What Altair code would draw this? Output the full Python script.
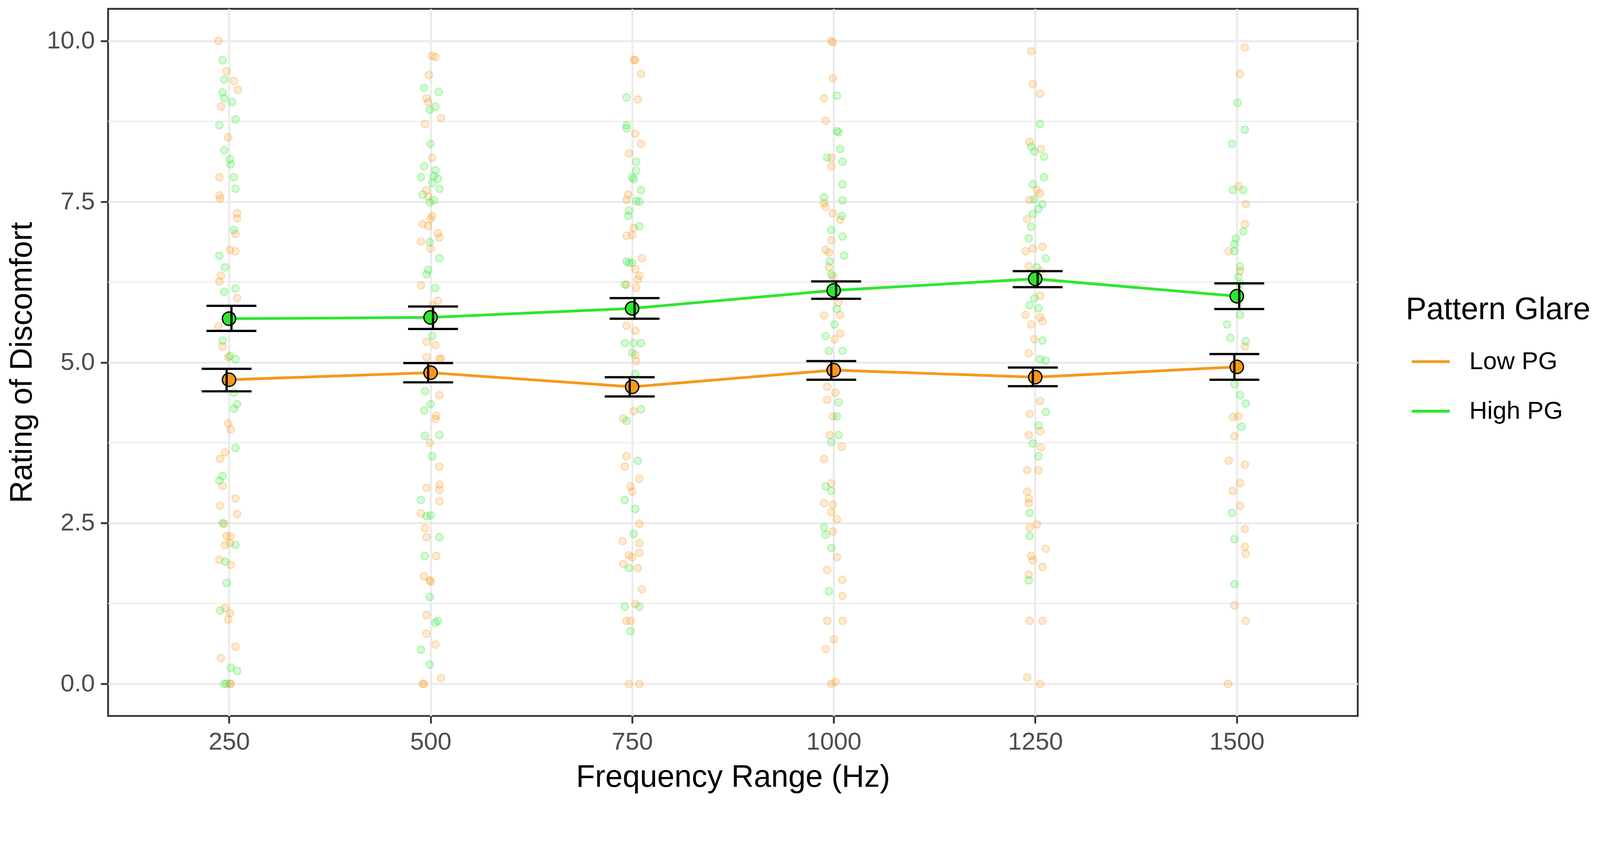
import altair as alt
import pandas as pd

FREQS = [250, 500, 750, 1000, 1250, 1500]
GROUPS = ["Low PG", "High PG"]
COLORS = ["#F7981D", "#2FE62F"]

MEAN_LOW = [4.73, 4.84, 4.62, 4.88, 4.77, 4.93]
LOWER_LOW = [4.55, 4.69, 4.47, 4.73, 4.63, 4.73]
UPPER_LOW = [4.90, 4.99, 4.77, 5.02, 4.92, 5.13]
MEAN_HIGH = [5.68, 5.70, 5.84, 6.12, 6.30, 6.03]
LOWER_HIGH = [5.49, 5.52, 5.68, 5.99, 6.17, 5.83]
UPPER_HIGH = [5.88, 5.87, 6.00, 6.26, 6.42, 6.23]

Y_TICKS = [0, 2.5, 5, 7.5, 10]
Y_MINOR = [1.25, 3.75, 6.25, 8.75]

# raw ratings: (horizontal jitter in Hz, rating)
RAW_LOW = {
    250: [(-13, 10.0), (-3, 9.53), (6, 9.38), (11, 9.24), (-10, 8.98), (-1, 8.50), (-12, 7.88),
          (-12, 7.60), (-11, 7.55), (10, 7.32), (10, 7.24), (8, 7.00), (1, 6.75), (8, 6.73),
          (-10, 6.35), (-12, 6.26), (10, 6.00), (-13, 5.56), (-8, 5.25), (-1, 5.08), (-1, 4.05),
          (2, 3.96), (-5, 3.60), (-11, 3.50), (-8, 3.08), (8, 2.88), (-11, 2.77), (10, 2.64),
          (-6, 2.49), (-3, 2.30), (2, 2.29), (1, 2.19), (-5, 2.16), (-12, 1.93), (2, 1.85),
          (-5, 1.18), (1, 1.10), (-1, 1.00), (8, 0.58), (-10, 0.40), (2, 0.0), (1, 0.0)],
    500: [(2, 9.77), (6, 9.75), (-2, 9.47), (-5, 9.11), (-3, 9.05), (13, 8.80), (-7, 8.71),
          (2, 8.18), (-5, 7.68), (-3, 7.58), (2, 7.28), (0, 7.23), (-10, 7.15), (-3, 7.12),
          (9, 7.01), (11, 6.94), (-12, 6.88), (0, 6.77), (-12, 6.20), (9, 5.96), (2, 5.89),
          (-5, 5.32), (6, 5.27), (11, 5.05), (-5, 5.08), (13, 5.06), (11, 4.49), (7, 4.17),
          (6, 4.12), (-1, 3.75), (11, 3.38), (11, 3.10), (-5, 3.05), (11, 3.02), (11, 2.84),
          (-12, 2.65), (-7, 2.42), (-5, 2.28), (7, 1.99), (-8, 1.67), (-1, 1.61), (0, 1.59),
          (-5, 1.07), (-5, 0.78), (6, 0.61), (13, 0.09), (-10, 0.0), (-8, 0.0)],
    750: [(2, 9.71), (4, 9.70), (11, 9.49), (7, 9.09), (4, 8.56), (11, 8.40), (-4, 8.25),
          (-5, 7.61), (-7, 7.53), (2, 7.09), (-7, 6.97), (0, 6.98), (12, 6.62), (4, 6.45),
          (9, 6.35), (7, 6.29), (-7, 6.21), (5, 6.16), (-7, 5.57), (4, 5.49), (5, 5.02),
          (4, 5.12), (2, 4.24), (-11, 4.13), (-7, 3.54), (-9, 3.38), (9, 3.19), (-2, 3.07),
          (0, 2.99), (9, 2.49), (-12, 2.22), (9, 2.19), (-4, 2.00), (0, 1.97), (9, 2.04),
          (-11, 1.86), (7, 1.80), (12, 1.47), (4, 1.24), (-7, 0.98), (-2, 0.98), (-4, 0.0),
          (9, 0.0)],
    1000: [(-3, 10.0), (-1, 9.98), (-1, 9.42), (-12, 9.11), (-10, 8.76), (-3, 8.18), (-3, 8.05),
           (-12, 7.48), (-10, 7.42), (-1, 7.32), (8, 7.22), (-3, 6.90), (-10, 6.75), (-6, 6.71),
           (-6, 6.48), (-1, 6.34), (6, 5.93), (-12, 5.73), (8, 5.74), (8, 5.45), (1, 5.36),
           (-8, 4.62), (2, 4.53), (-8, 4.42), (-1, 4.16), (-5, 3.87), (10, 3.69), (-12, 3.50),
           (-3, 3.12), (-12, 2.81), (-1, 2.79), (-3, 2.67), (4, 2.56), (-1, 2.37), (4, 1.97),
           (-8, 1.77), (11, 1.62), (11, 1.37), (-8, 0.98), (11, 0.98), (0, 0.69), (-10, 0.54),
           (-3, 0.0), (2, 0.03)],
    1250: [(-5, 9.84), (-3, 9.33), (6, 9.18), (-7, 8.43), (7, 8.32), (2, 7.68), (6, 7.63),
           (-7, 7.53), (-10, 7.23), (-12, 6.73), (9, 6.80), (-3, 6.77), (-8, 6.50), (7, 6.42),
           (6, 6.04), (-12, 5.74), (6, 5.70), (9, 5.64), (-5, 5.59), (-1, 5.36), (-8, 5.14),
           (6, 4.40), (-7, 4.20), (6, 3.93), (-8, 3.87), (7, 3.68), (-10, 3.32), (4, 3.32),
           (-10, 2.99), (-8, 2.88), (-8, 2.81), (2, 2.48), (-7, 2.43), (13, 2.10), (-5, 1.99),
           (-3, 1.92), (9, 1.82), (-8, 1.70), (-7, 0.98), (9, 0.98), (-10, 0.10), (6, 0.0)],
    1500: [(10, 9.90), (4, 9.49), (2, 7.74), (11, 7.46), (10, 7.15), (-10, 6.73), (4, 6.42),
           (2, 5.97), (10, 5.25), (-5, 4.15), (2, 4.16), (-3, 3.85), (-10, 3.47), (10, 3.41),
           (4, 3.12), (-5, 3.00), (4, 2.77), (10, 2.41), (10, 2.13), (11, 2.02), (-3, 1.22),
           (11, 0.98), (-11, 0.0)],
}
RAW_HIGH = {
    250: [(-8, 9.70), (-6, 9.40), (-8, 9.20), (-6, 9.11), (4, 9.05), (8, 8.78), (-12, 8.69),
          (-6, 8.30), (1, 8.16), (2, 8.08), (6, 7.88), (8, 7.70), (6, 7.06), (-12, 6.66),
          (-5, 6.48), (8, 6.15), (-6, 6.10), (-8, 5.34), (8, 5.05), (1, 5.10), (6, 4.53),
          (10, 4.35), (6, 4.28), (8, 3.67), (-8, 3.23), (-12, 3.16), (-8, 2.50), (8, 2.16),
          (-5, 1.90), (-3, 1.57), (-11, 1.14), (2, 0.25), (10, 0.20), (-6, 0.0), (-3, 0.0)],
    500: [(-8, 9.27), (10, 9.21), (6, 8.98), (-1, 8.93), (0, 8.40), (-8, 8.05), (6, 7.99),
          (4, 7.90), (-12, 7.88), (9, 7.86), (2, 7.79), (11, 7.70), (-10, 7.61), (4, 7.52),
          (-1, 7.49), (-1, 6.87), (11, 6.62), (-3, 6.44), (-5, 6.37), (6, 6.16), (2, 5.41),
          (-7, 4.55), (0, 4.35), (-8, 4.25), (11, 3.87), (-7, 3.86), (2, 3.54), (-12, 2.86),
          (0, 2.62), (-5, 2.61), (11, 2.28), (-7, 1.99), (-1, 1.35), (9, 0.98), (6, 0.95),
          (-12, 0.53), (-1, 0.30)],
    750: [(-7, 9.12), (-7, 8.69), (-7, 8.64), (5, 8.12), (5, 7.98), (0, 7.88), (2, 7.85),
          (11, 7.68), (9, 7.50), (5, 7.51), (-4, 7.36), (-5, 7.28), (9, 7.12), (-7, 6.57),
          (0, 6.55), (-4, 6.55), (-9, 6.21), (-9, 5.30), (2, 5.30), (11, 5.30), (0, 5.15),
          (4, 4.82), (11, 4.27), (-7, 4.09), (7, 3.47), (-9, 2.86), (4, 2.72), (2, 2.33),
          (-4, 1.80), (-9, 1.20), (9, 1.20), (-2, 0.82)],
    1000: [(4, 9.15), (4, 8.60), (6, 8.58), (8, 8.32), (-8, 8.19), (11, 8.12), (11, 7.77),
           (-12, 7.57), (11, 7.52), (10, 7.28), (-3, 7.06), (11, 6.96), (13, 6.66), (-5, 6.57),
           (-3, 6.37), (4, 5.83), (1, 5.59), (-10, 5.41), (-6, 5.18), (11, 5.18), (6, 4.38),
           (4, 4.16), (6, 3.87), (-3, 3.76), (-10, 3.07), (-3, 3.00), (-12, 2.43), (-10, 2.32),
           (-3, 2.11), (-6, 1.44)],
    1250: [(6, 8.71), (-5, 8.36), (-1, 8.28), (11, 8.20), (11, 7.88), (-3, 7.77), (-1, 7.54),
           (9, 7.46), (4, 7.39), (-3, 7.31), (-5, 7.11), (-8, 6.93), (13, 6.62), (2, 6.48),
           (-1, 6.00), (-7, 5.89), (4, 5.84), (9, 5.34), (13, 5.03), (6, 5.05), (13, 4.23),
           (4, 4.02), (-3, 3.74), (4, 3.54), (-7, 2.66), (-7, 2.30), (-8, 1.61)],
    1500: [(1, 9.04), (10, 8.62), (-6, 8.40), (-5, 7.68), (8, 7.68), (8, 7.04), (-1, 6.93),
           (-3, 6.84), (-3, 6.73), (4, 6.49), (2, 6.33), (4, 6.22), (4, 5.74), (-12, 5.59),
           (-8, 5.38), (11, 5.33), (-3, 4.66), (4, 4.49), (11, 4.36), (6, 4.00), (-6, 2.66),
           (-3, 2.25), (-3, 1.55)],
}

# ---- tables ----
raw_rows = []
for grp, src in ((GROUPS[0], RAW_LOW), (GROUPS[1], RAW_HIGH)):
    for f in FREQS:
        for jit, val in src[f]:
            raw_rows.append({"freq": f, "jit": jit, "rating": val, "group": grp})
raw = pd.DataFrame(raw_rows)

sum_rows = []
for grp, m, lo, hi in ((GROUPS[0], MEAN_LOW, LOWER_LOW, UPPER_LOW),
                       (GROUPS[1], MEAN_HIGH, LOWER_HIGH, UPPER_HIGH)):
    for i, f in enumerate(FREQS):
        sum_rows.append({"freq": f, "group": grp, "mean": m[i], "lo": lo[i], "hi": hi[i]})
summ = pd.DataFrame(sum_rows)
minor = pd.DataFrame({"y": Y_MINOR})

COLOR_EXPR = "datum.group == '%s' ? '%s' : '%s'" % (GROUPS[0], COLORS[0], COLORS[1])

FONT = "Liberation Sans"
xscale = alt.Scale(domain=[100, 1650], nice=False, zero=False)
yscale = alt.Scale(domain=[-0.5, 10.5], nice=False, zero=False)
X_AX = alt.Axis(values=FREQS, format="d", title="Frequency Range (Hz)")
Y_AX = alt.Axis(values=Y_TICKS, format=".1f", title="Rating of Discomfort")
cscale = alt.Scale(domain=GROUPS, range=COLORS)

grid_minor = alt.Chart(minor).mark_rule(color="#EBEBEB", strokeWidth=3).encode(
    y=alt.Y("y:Q", scale=yscale, axis=Y_AX)
)

points = alt.Chart(raw).transform_calculate(
    xj="datum.freq + datum.jit", col=COLOR_EXPR
).mark_point(filled=True, shape="circle", size=400, opacity=1,
             fillOpacity=0.2, strokeOpacity=0.3, strokeWidth=3).encode(
    x=alt.X("xj:Q", scale=xscale, axis=X_AX),
    y=alt.Y("rating:Q", scale=yscale, axis=Y_AX),
    fill=alt.Fill("col:N", scale=None),
    stroke=alt.Stroke("col:N", scale=None),
)

lines = alt.Chart(summ).mark_line(strokeWidth=7.5).encode(
    x=alt.X("freq:Q", scale=xscale, axis=X_AX),
    y=alt.Y("mean:Q", scale=yscale, axis=Y_AX),
    color=alt.Color("group:N", scale=cscale, sort=GROUPS, legend=alt.Legend(
        title="Pattern Glare", orient="none", legendX=3511, legendY=774,
        symbolType="stroke", symbolStrokeWidth=7.5, symbolSize=10609,
        titleFontSize=84, titleFontWeight="normal", titleColor="black", titleFont=FONT,
        labelFontSize=67, labelColor="black", labelFont=FONT,
        labelLimit=1000, titleLimit=1000,
        rowPadding=45, titlePadding=41, symbolOffset=12, labelOffset=49, padding=0,
    )),
)

means = alt.Chart(summ).transform_calculate(col=COLOR_EXPR).mark_point(
    filled=True, shape="circle", size=1300, opacity=1, stroke="black", strokeWidth=3.5
).encode(
    x=alt.X("freq:Q", scale=xscale, axis=X_AX),
    y=alt.Y("mean:Q", scale=yscale, axis=Y_AX),
    fill=alt.Fill("col:N", scale=None),
)

dodged = alt.Chart(summ).transform_calculate(
    xd="datum.freq + (datum.group == '%s' ? 3 : -3)" % GROUPS[1]
)
bars = dodged.mark_rule(color="black", strokeWidth=6).encode(
    x=alt.X("xd:Q", scale=xscale, axis=X_AX),
    y=alt.Y("lo:Q", scale=yscale, axis=Y_AX),
    y2="hi:Q",
)
caps_lo = dodged.mark_tick(orient="horizontal", size=135, thickness=6, color="black", opacity=1).encode(
    x=alt.X("xd:Q", scale=xscale, axis=X_AX),
    y=alt.Y("lo:Q", scale=yscale, axis=Y_AX),
)
caps_hi = dodged.mark_tick(orient="horizontal", size=135, thickness=6, color="black", opacity=1).encode(
    x=alt.X("xd:Q", scale=xscale, axis=X_AX),
    y=alt.Y("hi:Q", scale=yscale, axis=Y_AX),
)

chart = alt.layer(grid_minor, points, lines, means, bars, caps_lo, caps_hi).properties(
    width=3381, height=1913,
    padding={"left": 284, "top": -45, "right": 647, "bottom": 260},
    autosize=alt.AutoSizeParams(type="none"),
).configure(
    font=FONT,
).configure_view(
    stroke="#333333", strokeWidth=5, fill="white",
).configure_axis(
    grid=True, gridColor="#EBEBEB", gridWidth=5.5, domain=False,
    tickColor="#333333", tickWidth=5, tickSize=20,
    labelFont=FONT, labelFontSize=67, labelColor="#4D4D4D",
    titleFont=FONT, titleFontSize=84, titleFontWeight="normal", titleColor="black",
).configure_axisX(
    labelPadding=18, titlePadding=21,
).configure_axisY(
    labelPadding=16, titlePadding=23,
)

chart.save("out.html", embed_options={"renderer": "svg", "actions": False})
